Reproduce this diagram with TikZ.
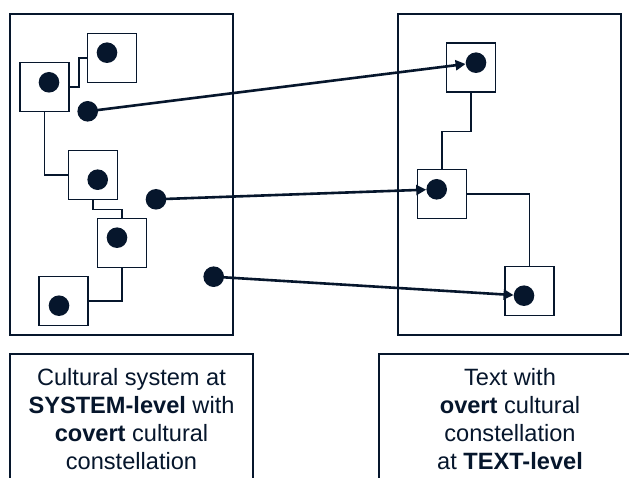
\documentclass[tikz,border=0pt]{standalone}
\usepackage{fontspec}
\setmainfont{Liberation Sans}
\usetikzlibrary{arrows.meta}
\definecolor{ink}{RGB}{6,22,44}
\begin{document}
\begin{tikzpicture}[x=1pt,y=-1pt,
  frame/.style={draw=ink,line width=1.3pt},
  thickframe/.style={draw=ink,line width=2pt},
  sq/.style={draw=ink,line width=1.3pt,minimum size=49pt,inner sep=0pt},
  dot/.style={circle,fill=ink,minimum size=20.6pt,inner sep=0pt},
  link/.style={draw=ink,line width=1.3pt},
  arr/.style={draw=ink,line width=2.6pt,-{Triangle[length=10pt,width=10pt]}},
  lbl/.style={align=center,font=\fontsize{23.6}{28}\selectfont,text=ink,inner sep=0pt}]
\useasboundingbox (0,0) rectangle (629,478);
\clip (0,0) rectangle (629,478);
\fill[white] (0,0) rectangle (629,478);
% big frames
\draw[frame] (10,14) rectangle (233,335);
\draw[frame] (398,14) rectangle (621,335);
% small boxes, left
\node[sq] (A) at (112,58) {};
\node[sq] (B) at (44.5,87) {};
\node[sq] (C) at (93,175) {};
\node[sq] (D) at (122,243) {};
\node[sq] (E) at (63.5,301) {};
% small boxes, right
\node[sq] (P) at (471,67.5) {};
\node[sq] (Q) at (442,194) {};
\node[sq] (R) at (529.5,291) {};
% links
\draw[link] (B.east) -- ++(9.3,0) |- (A.west);
\draw[link] (B.south) |- (C.west);
\draw[link] (C.south) -- ++(0,9.5) -| (D.north);
\draw[link] (D.south) |- (E.east);
\draw[link] (P.south) -- ++(0,39) -| (Q.north);
\draw[link] (Q.east) -| (R.north);
% dots
\node[dot] (a) at (107,52.7) {};
\node[dot] (b) at (49,82.3) {};
\node[dot] (c) at (97.7,179.7) {};
\node[dot] (d) at (117,237.7) {};
\node[dot] (e) at (59,305.7) {};
\node[dot] (p) at (476,62.7) {};
\node[dot] (q) at (436.7,189.3) {};
\node[dot] (r) at (524,295.7) {};
\node[dot] (f1) at (87.7,111.3) {};
\node[dot] (f2) at (156,199.3) {};
\node[dot] (f3) at (213.7,276.7) {};
% arrows
\draw[arr] (f1.center) -- (p);
\draw[arr] (f2.center) -- (q);
\draw[arr] (f3.center) -- (r);
% bottom boxes
\draw[frame] (10,354) rectangle (253,490);
\draw[thickframe] (379,354) rectangle (641,490);
\node[lbl,anchor=north] (lt) at (131.5,368) {Cultural system at\\\textbf{SYSTEM-level} with\\\textbf{covert} cultural\\constellation};
\node[lbl,anchor=north] (rt) at (510,368) {Text with\\\textbf{overt} cultural\\constellation\\at \textbf{TEXT-level}};
\end{tikzpicture}
\end{document}
